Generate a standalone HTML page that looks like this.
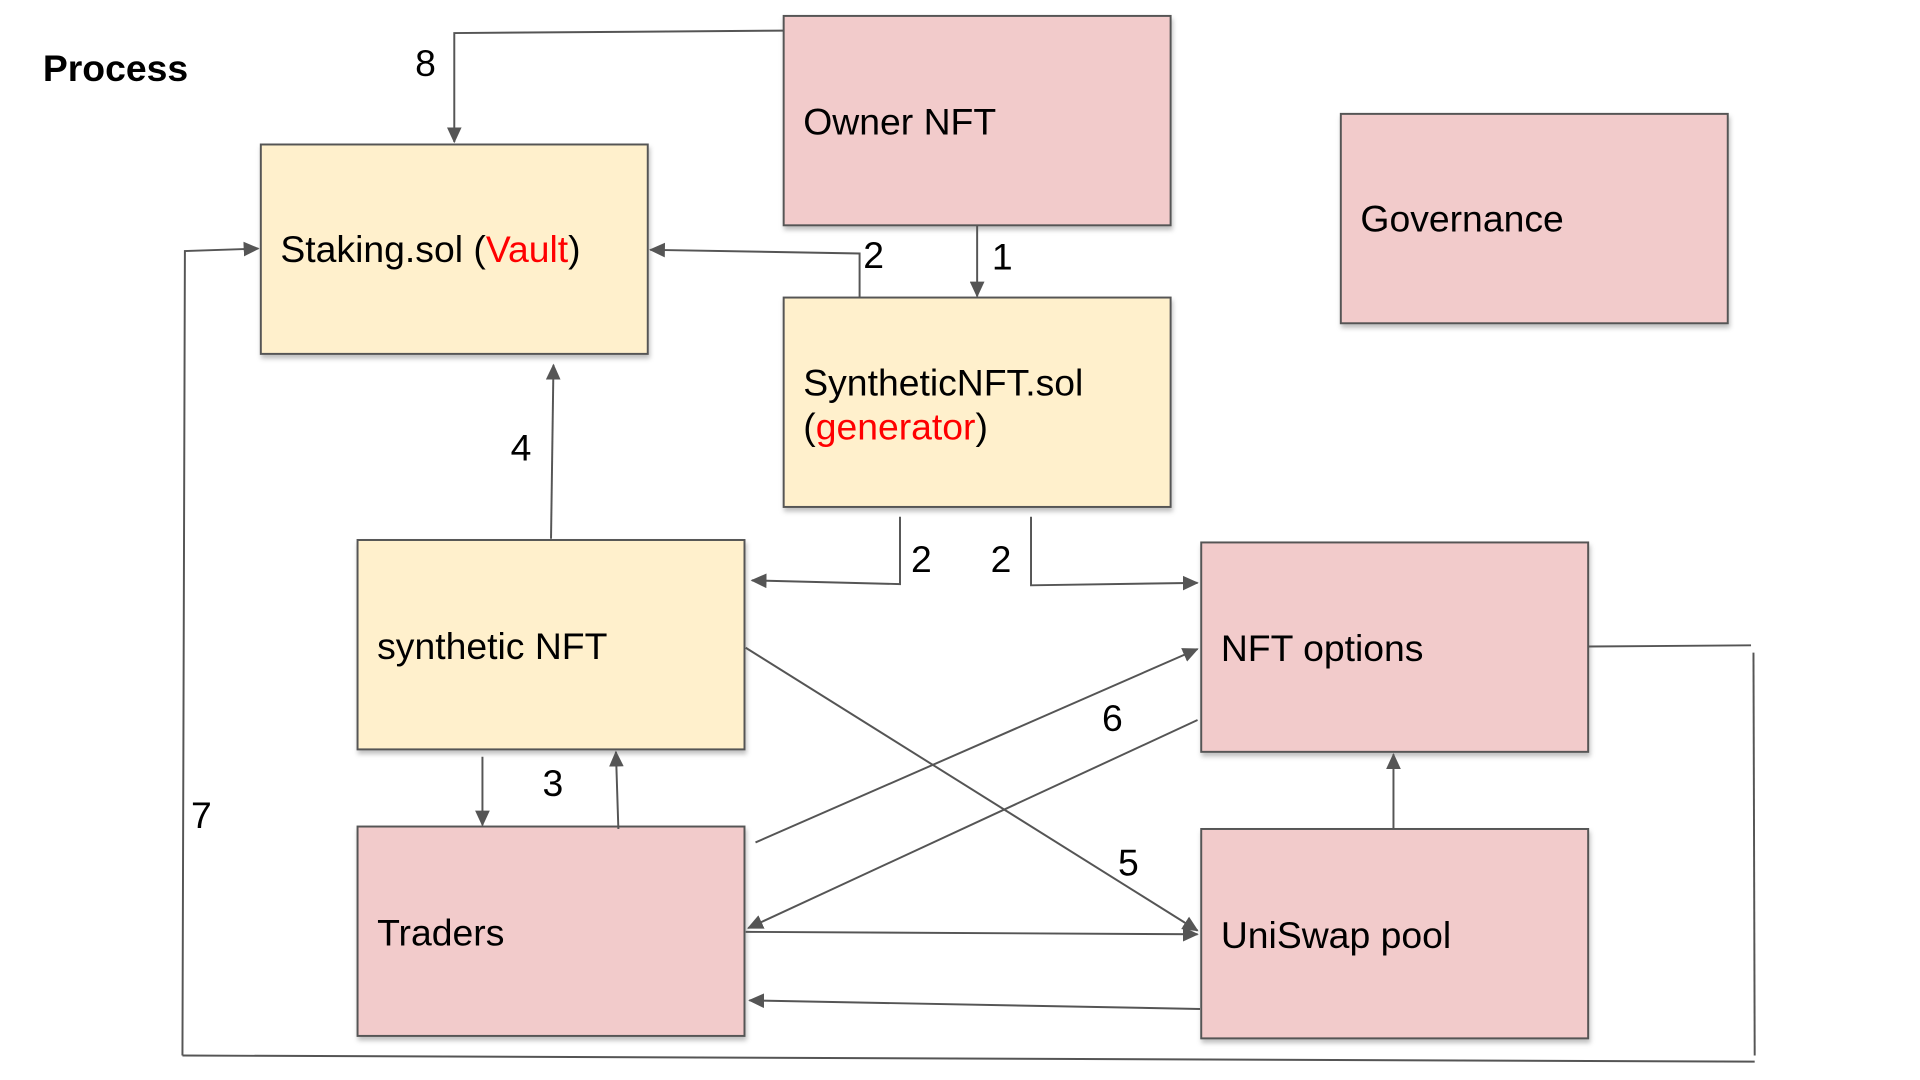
<!DOCTYPE html>
<html><head><meta charset="utf-8"><style>
html,body{margin:0;padding:0;background:#fff;width:1920px;height:1080px;overflow:hidden}
svg{display:block}
text{font-family:"Liberation Sans",Arial,sans-serif;font-size:30.5px;fill:#000}
</style></head><body>
<svg width="1920" height="1080" viewBox="0 0 1568 882" preserveAspectRatio="none">
<defs>
<marker id="a" markerWidth="13" markerHeight="12" refX="12" refY="6" orient="auto" markerUnits="userSpaceOnUse">
<path d="M0,0 L13,6 L0,12 z" fill="#555"/></marker>
<filter id="s" x="-5%" y="-5%" width="112%" height="115%"><feDropShadow dx="1" dy="3" stdDeviation="2" flood-color="#000" flood-opacity="0.25"/></filter>
</defs>
<g stroke="#555" stroke-width="1.6" filter="url(#s)">
<rect x="640" y="13" width="316" height="171" fill="#f2cbcb"/>
<rect x="1095" y="93" width="316" height="171" fill="#f2cbcb"/>
<rect x="213" y="118" width="316" height="171" fill="#fff0cc"/>
<rect x="640" y="243" width="316" height="171" fill="#fff0cc"/>
<rect x="292" y="441" width="316" height="171" fill="#fff0cc"/>
<rect x="981" y="443" width="316" height="171" fill="#f2cbcb"/>
<rect x="292" y="675" width="316" height="171" fill="#f2cbcb"/>
<rect x="981" y="677" width="316" height="171" fill="#f2cbcb"/>
</g>
<text x="35" y="66" font-weight="bold">Process</text>
<text x="656" y="110">Owner NFT</text>
<text x="1111" y="189">Governance</text>
<text x="229" y="214">Staking.sol (<tspan fill="#f00">Vault</tspan>)</text>
<text x="656" y="323">SyntheticNFT.sol</text>
<text x="656" y="359">(<tspan fill="#f00">generator</tspan>)</text>
<text x="308" y="538">synthetic NFT</text>
<text x="997" y="540">NFT options</text>
<text x="308" y="772">Traders</text>
<text x="997" y="774">UniSwap pool</text>
<g fill="none" stroke="#555" stroke-width="1.6">
<polyline points="640,25 371,27 371,116" marker-end="url(#a)"/>
<line x1="798" y1="184" x2="798" y2="242" marker-end="url(#a)"/>
<polyline points="702,243 702,207 531,204" marker-end="url(#a)"/>
<line x1="450" y1="440" x2="452" y2="298" marker-end="url(#a)"/>
<polyline points="735,422 735,477 614,474" marker-end="url(#a)"/>
<polyline points="842,422 842,478 978,476" marker-end="url(#a)"/>
<line x1="394" y1="618" x2="394" y2="674" marker-end="url(#a)"/>
<line x1="505" y1="677" x2="503" y2="614" marker-end="url(#a)"/>
<line x1="609" y1="529" x2="978" y2="760" marker-end="url(#a)"/>
<line x1="617" y1="688" x2="978" y2="530" marker-end="url(#a)"/>
<line x1="978" y1="588" x2="611" y2="758" marker-end="url(#a)"/>
<line x1="609" y1="761" x2="978" y2="763" marker-end="url(#a)"/>
<line x1="980" y1="824" x2="612" y2="817" marker-end="url(#a)"/>
<line x1="1138" y1="677" x2="1138" y2="616" marker-end="url(#a)"/>
<line x1="1297" y1="528" x2="1430" y2="527"/>
<line x1="1432" y1="533" x2="1433" y2="862"/>
<line x1="1433" y1="867" x2="149" y2="862"/>
<polyline points="149,862 151,205 211,203" marker-end="url(#a)"/>
</g>
<text x="339" y="62">8</text>
<text x="810" y="220">1</text>
<text x="705" y="219">2</text>
<text x="417" y="376">4</text>
<text x="744" y="467">2</text>
<text x="809" y="467">2</text>
<text x="443" y="650">3</text>
<text x="913" y="715">5</text>
<text x="900" y="597">6</text>
<text x="156" y="676">7</text>
</svg>
</body></html>
